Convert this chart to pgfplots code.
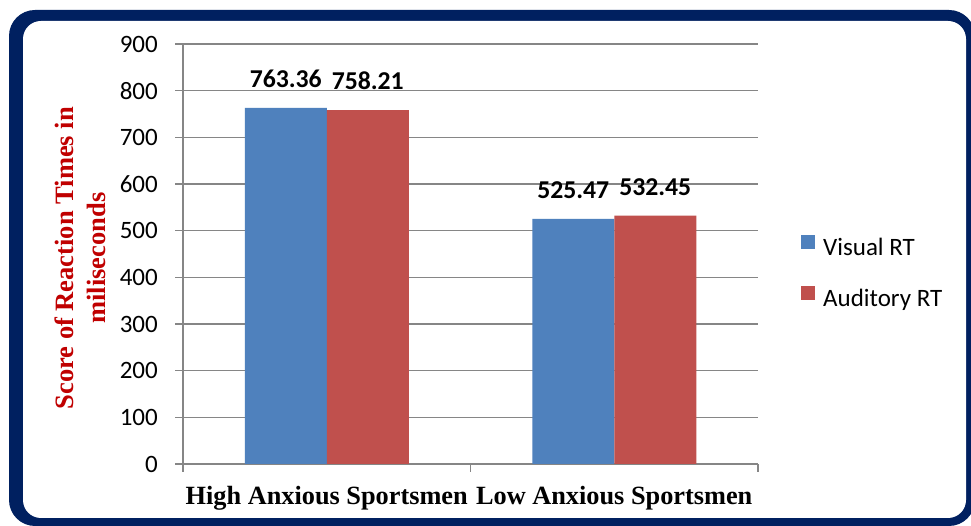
\documentclass[border=0pt]{standalone}
\usepackage{pgfplots}
\pgfplotsset{compat=1.18}
\usepackage{pgfplotstable}
\usepackage{fontspec}
\setmainfont{Carlito}
\newfontfamily\timesfont{Liberation Serif}

\definecolor{barblue}{RGB}{79,129,189}
\definecolor{barred}{RGB}{192,80,77}
\definecolor{framenavy}{RGB}{0,32,96}
\definecolor{titlered}{RGB}{192,0,0}
\definecolor{gridgray}{RGB}{134,134,134}

% mean reaction times (ms) per group
\pgfplotstableread{
pos visual auditory
0.5 763.36 758.21
1.5 525.47 532.45
}\rtdata

\pgfplotsset{
  sqlegend/.style={legend image code/.code={\fill[##1] (0pt,0pt) rectangle (14pt,14pt);}},
}

\begin{document}
\begin{tikzpicture}[x=1pt,y=1pt]
\useasboundingbox (0,0) rectangle (971,526);
% rounded frame
\fill[framenavy, rounded corners=26pt] (9,0) rectangle (975,516);
\fill[white, rounded corners=18pt] (23,8) rectangle (966,505);

\begin{axis}[
  at={(183pt,62pt)}, anchor=south west,
  scale only axis, width=575pt, height=420pt,
  xmin=0, xmax=2, ymin=0, ymax=900,
  axis x line*=bottom, axis y line*=left,
  axis line style={gridgray, line width=1.3pt},
  ymajorgrids, grid style={gridgray, line width=1.3pt},
  tick style={gridgray, line width=1.3pt},
  tick align=outside, major tick length=8pt,
  ytick={0,100,...,900},
  xtick={0,1,2}, xticklabels={},
  extra x ticks={0.5,1.5},
  extra x tick labels={High Anxious Sportsmen, Low Anxious Sportsmen},
  extra x tick style={major tick length=0pt,
    tick label style={anchor=base, inner sep=0pt, yshift=-41pt,
      font=\timesfont\bfseries\fontsize{26.3}{30}\selectfont}},
  yticklabel style={inner sep=0pt, xshift=-17pt,
    font=\fontsize{25}{30}\selectfont},
  /pgf/number format/assume math mode=true,
  ylabel={Score of Reaction Times in\\miliseconds},
  ylabel style={at={(axis description cs:-0.1786,0.49)}, anchor=center,
    align=center, text=titlered,
    font=\timesfont\bfseries\fontsize{26.5}{31.5}\selectfont},
  ybar=0pt, bar width=82pt,
  nodes near coords={\pgfmathprintnumber[fixed,fixed zerofill,precision=2,assume math mode=true]{\pgfplotspointmeta}},
  every node near coord/.append style={inner sep=0pt, yshift=20pt,
    font=\bfseries\fontsize{25.7}{30}\selectfont, text=black},
  legend style={at={(axis description cs:1.0748,0.5452)}, anchor=north west,
    draw=none, fill=none, inner sep=0pt,
    nodes={inner sep=0pt, text height=18pt, text depth=6pt,
      font=\fontsize{25}{30}\selectfont},
    row sep=25pt,
    /tikz/every odd column/.append style={column sep=8pt}},
  legend cell align=left,
]
\addplot[fill=barblue, draw=none, sqlegend] table[x=pos, y=visual] {\rtdata};
\addlegendentry{Visual RT}
\addplot[fill=barred, draw=none, sqlegend] table[x=pos, y=auditory] {\rtdata};
\addlegendentry{Auditory RT}
\end{axis}
\end{tikzpicture}
\end{document}
